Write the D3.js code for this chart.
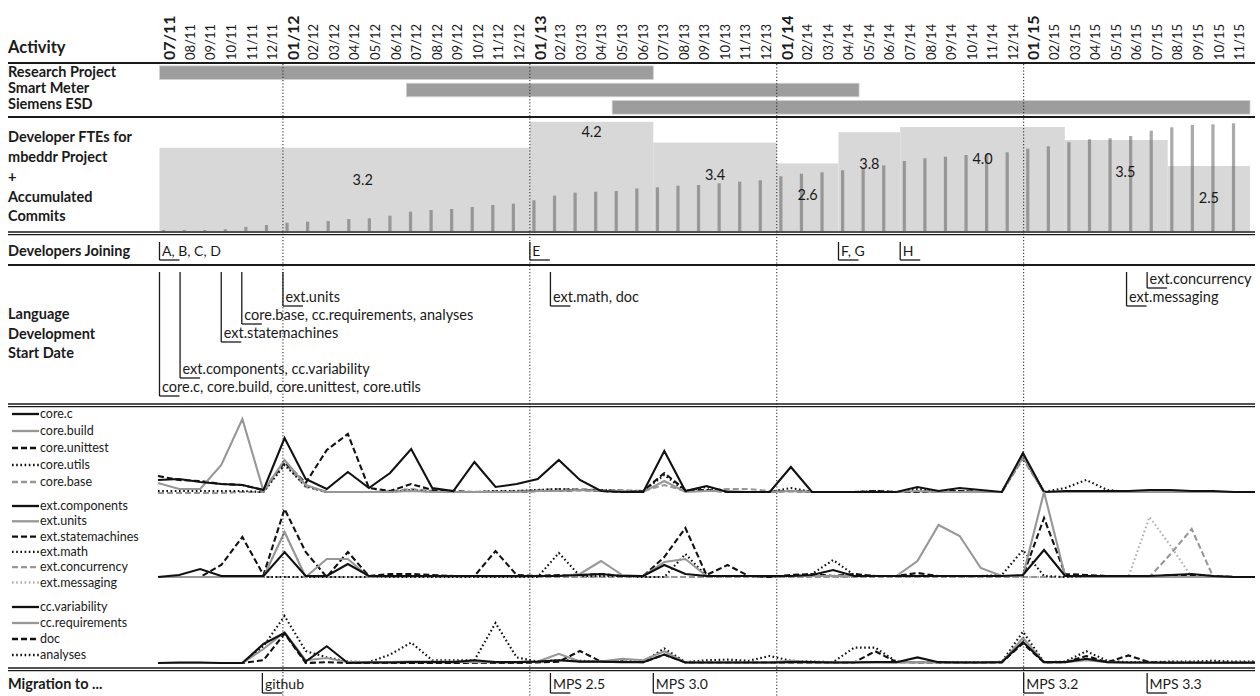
<!DOCTYPE html>
<html><head><meta charset="utf-8">
<script src="https://cdn.jsdelivr.net/npm/d3@7"></script>
<style>
html,body{margin:0;padding:0;background:#fff;}
svg{display:block;font-family:Lato,"Open Sans",sans-serif;}
</style></head>
<body><svg id="chart" width="1260" height="696"></svg>
<script>
// ---------------- DATA ----------------
const months = ['07/11','08/11','09/11','10/11','11/11','12/11',
 '01/12','02/12','03/12','04/12','05/12','06/12','07/12','08/12','09/12','10/12','11/12','12/12',
 '01/13','02/13','03/13','04/13','05/13','06/13','07/13','08/13','09/13','10/13','11/13','12/13',
 '01/14','02/14','03/14','04/14','05/14','06/14','07/14','08/14','09/14','10/14','11/14','12/14',
 '01/15','02/15','03/15','04/15','05/15','06/15','07/15','08/15','09/15','10/15','11/15'];
const yearStarts = ['07/11','01/12','01/13','01/14','01/15'];
const yearLines = ['01/12','01/13','01/14','01/15'];

const activityNames = ['Research Project','Smart Meter','Siemens ESD'];
const activityStart = ['07/11','07/12','05/13'];
const activityEnd   = ['06/13','04/14','11/15'];

const fteStart = ['07/11','01/13','07/13','01/14','04/14','07/14','03/15','08/15'];
const fteValue = [3.2, 4.2, 3.4, 2.6, 3.8, 4.0, 3.5, 2.5];

const accumulatedCommits = [1,1,1,1.7,4,6,8.3,9.3,10,12,12.7,15.3,19.3,21,22,24,26,27.3,30.7,35.3,38.3,39.3,40,42.5,
 43.7,45.3,46,47.7,49.3,50.7,54.7,57.3,58.7,60.7,63.3,65.7,70,72.7,74.3,76,76.7,78.7,
 82.3,84.7,88.7,91.7,92.7,95,100.3,103.7,106,106.7,107.7];

const joinMonths = ['07/11','01/13','04/14','07/14'];
const joinLabels = ['A, B, C, D','E','F, G','H'];

const langMonths = ['07/11','08/11','10/11','11/11','01/12','02/13','06/15','07/15'];
const langLabels = ['core.c, core.build, core.unittest, core.utils','ext.components, cc.variability',
 'ext.statemachines','core.base, cc.requirements, analyses','ext.units','ext.math, doc','ext.messaging','ext.concurrency'];

const migrationMonths = ['12/11','02/13','07/13','01/15','07/15'];
const migrationLabels = ['github','MPS 2.5','MPS 3.0','MPS 3.2','MPS 3.3'];

// monthly commits per language (relative units)
const coreC = [13,14,11,9,8,3,55,14,4,21,5,20,44,5,2,31,6,9,14,33,13,2,1,1,42,2,7,1,1,1,26,1,1,1,1,1,6,2,5,3,1,40,1,2,2,2,2,3,3,2,2,1,1];
const coreBuild = [10,4,4,28,74,2,33,8,1,1,1,1,2,1,1,1,1,1,2,2,3,2,2,1,12,1,2,2,1,1,2,1,1,1,1,1,2,1,1,1,1,36,1,1,1,1,1,1,1,1,1,1,1];
const coreUnittest = [17,13,12,9,8,3,31,10,43,59,5,2,9,3,2,1,1,1,2,2,3,2,1,2,20,3,3,1,1,1,2,1,1,1,2,1,1,2,2,1,1,37,1,1,2,1,1,1,1,1,1,1,1];
const coreUtils = [2,2,2,2,2,1,28,7,1,1,1,1,3,1,1,1,2,2,3,4,3,3,2,2,18,2,6,1,1,1,5,1,1,1,2,1,4,2,2,1,1,36,1,5,13,3,1,1,1,1,1,1,1];
const coreBase = [0,0,0,0,1,1,30,6,1,1,1,2,4,2,1,1,2,2,3,4,4,3,3,2,8,2,3,4,4,2,2,1,1,1,1,1,1,1,1,1,1,34,1,1,1,1,1,1,1,1,1,1,1];

const extComponents = [0,2,8,1,1,1,25,1,1,13,1,1,1,1,1,1,1,1,1,1,2,3,1,1,12,3,1,1,1,1,1,2,7,1,1,1,1,1,1,1,1,2,27,1,1,1,1,1,2,3,1,0,0];
const extUnits = [0,0,0,0,0,0,45,0,18,18,0,1,1,1,1,1,1,1,1,1,3,16,2,1,15,18,1,1,1,1,1,1,1,1,1,1,16,52,41,9,1,1,85,1,0,0,0,0,0,0,0,0,0];
const extStatemachines = [0,0,0,12,40,2,68,25,0,25,1,3,3,2,1,1,26,2,1,2,2,3,1,1,20,49,2,12,1,0,2,3,1,3,1,1,4,1,1,1,1,1,59,3,2,1,0,0,2,2,1,0,0];
const extMath = [0,0,0,0,0,0,0,0,0,0,0,0,0,0,0,0,0,0,0,24,1,1,1,0,0,23,1,1,1,1,1,3,17,2,1,1,1,1,1,1,2,27,1,0,0,0,0,0,0,0,0,0,0];
const extConcurrency = [0,0,0,0,0,0,0,0,0,0,0,0,0,0,0,0,0,0,0,0,0,0,0,0,0,0,0,0,0,0,0,0,0,0,0,0,0,0,0,0,0,0,0,0,0,0,0,0,23,48,1,0,0];
const extMessaging = [0,0,0,0,0,0,45,0,0,0,0,0,0,0,0,0,0,0,0,0,0,0,0,0,0,0,0,0,0,0,0,0,0,0,0,0,0,0,0,0,0,0,0,0,0,0,0,60,31,0,0,0,0];

const ccVariability = [0,2,2,0,0,68,108,5,60,0,2,2,3,3,3,10,3,3,5,10,5,5,3,3,30,2,2,2,2,2,3,3,2,2,3,3,20,3,2,2,3,75,3,3,15,3,2,2,1,1,1,1,1];
const ccRequirements = [0,0,0,0,0,50,110,10,18,3,3,3,5,5,5,3,3,3,5,33,5,5,15,10,42,2,2,2,2,2,8,3,2,3,3,2,3,2,2,2,3,90,3,3,10,3,1,1,1,1,1,1,1];
const docCommits = [0,0,0,0,0,10,105,0,3,0,0,0,0,0,0,0,0,0,2,5,43,5,5,3,30,2,2,2,2,2,2,2,2,2,42,3,2,2,2,2,2,70,2,3,25,3,27,3,2,2,2,2,2];
const analyses = [0,0,0,0,0,60,168,43,20,5,3,30,73,10,10,10,143,20,5,10,8,5,5,5,52,3,10,12,8,25,8,5,3,55,55,5,3,3,3,3,4,112,3,5,42,8,3,3,5,5,8,5,5];

const panel1Names = ['core.c','core.build','core.unittest','core.utils','core.base'];
const panel1Values = [coreC, coreBuild, coreUnittest, coreUtils, coreBase];
const panel2Names = ['ext.components','ext.units','ext.statemachines','ext.math','ext.concurrency','ext.messaging'];
const panel2Values = [extComponents, extUnits, extStatemachines, extMath, extConcurrency, extMessaging];
const panel3Names = ['cc.variability','cc.requirements','doc','analyses'];
const panel3Values = [ccVariability, ccRequirements, docCommits, analyses];

// ---------------- DRAWING ----------------
const svg = d3.select('#chart');
const ink = '#1a1a1a';
const xBand = d3.scaleBand().domain(months).range([159.5, 1250]).paddingInner(0).paddingOuter(0);
const xPoint = d3.scalePoint().domain(months).range([158, 1255]);
const step = xBand.bandwidth();
const xStart = m => xBand(m);
const xEnd = m => xBand(m) + step;

// header month labels
svg.append('g').selectAll('text').data(months).join('text')
  .attr('transform', d => `translate(${xStart(d) + step / 2 + (yearStarts.includes(d) ? 5.5 : 4.5)},60) rotate(-90)`)
  .attr('text-anchor', 'start')
  .attr('font-size', d => yearStarts.includes(d) ? 16 : 13)
  .attr('font-weight', d => yearStarts.includes(d) ? 'bold' : 'normal')
  .attr('fill', ink)
  .text(d => d);

// left labels
const leftLabels = [
  ['Activity', 53, 16.5],
  ['Research Project', 77, 14.5], ['Smart Meter', 93, 14.5], ['Siemens ESD', 109, 14.5],
  ['Developer FTEs for', 142, 14.5], ['mbeddr Project', 162, 14.5], ['+', 182, 14.5], ['Accumulated', 202, 14.5], ['Commits', 221, 14.5],
  ['Developers Joining', 256, 14.5],
  ['Language', 319, 14.5], ['Development', 339, 14.5], ['Start Date', 358, 14.5],
  ['Migration to ...', 689, 14.5]
];
svg.append('g').selectAll('text').data(leftLabels).join('text')
  .attr('x', 8).attr('y', d => d[1]).attr('font-size', d => d[2]).attr('font-weight', 'bold').attr('fill', ink)
  .text(d => d[0]);

// Gantt bars
const yAct = d3.scaleBand().domain(activityNames).range([65, 115]).paddingInner(0.22).paddingOuter(0.05);
svg.append('g').selectAll('rect').data(activityNames).join('rect')
  .attr('x', (d, i) => xStart(activityStart[i]))
  .attr('width', (d, i) => xEnd(activityEnd[i]) - xStart(activityStart[i]))
  .attr('y', d => yAct(d)).attr('height', yAct.bandwidth())
  .attr('fill', '#9d9d9d').attr('stroke', '#d0d0d0').attr('stroke-width', 0.8);

// FTE steps
const yFte = d3.scaleLinear().domain([0, 4.423]).range([231, 116]);
const fteEnds = fteStart.slice(1).map(m => xStart(m)).concat([xEnd(months[months.length - 1])]);
svg.append('g').selectAll('rect').data(fteValue).join('rect')
  .attr('x', (d, i) => xStart(fteStart[i]))
  .attr('width', (d, i) => fteEnds[i] - xStart(fteStart[i]))
  .attr('y', d => yFte(d)).attr('height', d => yFte(0) - yFte(d))
  .attr('fill', '#d8d8d8');

// accumulated commits bars
const yCommits = d3.scaleLinear().domain([0, 115]).range([231, 116]);
svg.append('g').selectAll('rect').data(accumulatedCommits).join('rect')
  .attr('x', (d, i) => xStart(months[i]) + 2.5).attr('width', 3.2)
  .attr('y', d => yCommits(d)).attr('height', d => yCommits(0) - yCommits(d))
  .attr('fill', '#555').attr('opacity', 0.5);

// FTE labels
svg.append('g').selectAll('text').data(fteValue).join('text')
  .attr('x', (d, i) => (xStart(fteStart[i]) + fteEnds[i]) / 2 + (i === 0 ? 18 : (i === 6 ? 9 : 0)))
  .attr('y', d => yFte(d) + (d >= 4.1 ? 15 : 37))
  .attr('text-anchor', 'middle').attr('font-size', 14.5).attr('fill', ink)
  .text(d => d.toFixed(1));

// markers helper
function marker(g, x, yTop, yBottom, label, textY, size) {
  g.append('line').attr('x1', x).attr('x2', x).attr('y1', yTop).attr('y2', yBottom).attr('stroke', ink).attr('stroke-width', 1.3);
  g.append('line').attr('x1', x).attr('x2', x + 20).attr('y1', yBottom).attr('y2', yBottom).attr('stroke', ink).attr('stroke-width', 1.3);
  g.append('text').attr('x', x + 2.5).attr('y', textY).attr('font-size', size).attr('fill', ink).text(label);
}
const gj = svg.append('g');
joinMonths.forEach((m, i) => marker(gj, xStart(m), 242, 260, joinLabels[i], 256, 14));

// language development start dates (stacked text levels)
const langLevel = [0, 1, 3, 4, 5, 5, 5, 6];
const gl = svg.append('g');
langMonths.forEach((m, i) => {
  const ty = 392 - langLevel[i] * 18;
  marker(gl, xStart(m), 272, ty + 4, langLabels[i], ty, 14.5);
});

const gm = svg.append('g');
migrationMonths.forEach((m, i) => marker(gm, xStart(m), 673, 693, migrationLabels[i], 689, 14));

// line panels
const styles = {
  blackSolid: {c: '#111', d: null}, graySolid: {c: '#979797', d: null},
  blackDash: {c: '#111', d: '6,3'}, blackDot: {c: '#111', d: '1.6,2.6'},
  grayDash: {c: '#979797', d: '6,3'}, grayDot: {c: '#b0b0b0', d: '1.6,2.6'}
};
const panel1Styles = ['blackSolid', 'graySolid', 'blackDash', 'blackDot', 'grayDash'];
const panel2Styles = ['blackSolid', 'graySolid', 'blackDash', 'blackDot', 'grayDash', 'grayDot'];
const panel3Styles = ['blackSolid', 'graySolid', 'blackDash', 'blackDot'];

function drawPanel(names, values, stl, yBase, yTop, maxV, legendY, legendStep) {
  const y = d3.scaleLinear().domain([0, maxV]).range([yBase, yTop]);
  const line = d3.line().x((d, i) => xPoint(months[i])).y(d => y(d));
  const g = svg.append('g');
  for (let s = names.length - 1; s >= 0; s--) {
    const st = styles[stl[s]];
    g.append('path').datum(values[s]).attr('d', line).attr('fill', 'none')
      .attr('stroke', st.c).attr('stroke-width', 2.1).attr('stroke-linejoin', 'miter')
      .attr('stroke-dasharray', st.d);
  }
  const lg = svg.append('g');
  names.forEach((n, i) => {
    const st = styles[stl[i]];
    const ly = legendY + i * legendStep;
    lg.append('line').attr('x1', 12).attr('x2', 39).attr('y1', ly).attr('y2', ly)
      .attr('stroke', st.c).attr('stroke-width', 2.3).attr('stroke-dasharray', st.d);
    lg.append('text').attr('x', 40).attr('y', ly + 4).attr('font-size', 12.5).attr('fill', ink).text(n);
  });
}
drawPanel(panel1Names, panel1Values, panel1Styles, 493, 419, 74, 414, 17);
drawPanel(panel2Names, panel2Values, panel2Styles, 577, 492, 85, 506, 15.3);
drawPanel(panel3Names, panel3Values, panel3Styles, 663, 616, 168, 607, 16);

// horizontal separators
const seps = [[63, 2.2], [117, 2.2], [265, 2]];
svg.append('g').selectAll('line').data(seps).join('line')
  .attr('x1', 8).attr('x2', 1255).attr('y1', d => d[0]).attr('y2', d => d[0])
  .attr('stroke', ink).attr('stroke-width', d => d[1]);
const doubles = [232, 404, 668];
doubles.forEach(yv => {
  svg.append('line').attr('x1', 8).attr('x2', 1255).attr('y1', yv).attr('y2', yv).attr('stroke', ink).attr('stroke-width', 1.3);
  svg.append('line').attr('x1', 8).attr('x2', 1255).attr('y1', yv + 2.6).attr('y2', yv + 2.6).attr('stroke', ink).attr('stroke-width', 1.3);
});

// year divider dotted lines
svg.append('g').selectAll('line').data(yearLines).join('line')
  .attr('x1', d => xStart(d)).attr('x2', d => xStart(d)).attr('y1', 64).attr('y2', 696)
  .attr('stroke', '#222').attr('stroke-width', 1).attr('stroke-dasharray', '1.2,2');
</script></body></html>
